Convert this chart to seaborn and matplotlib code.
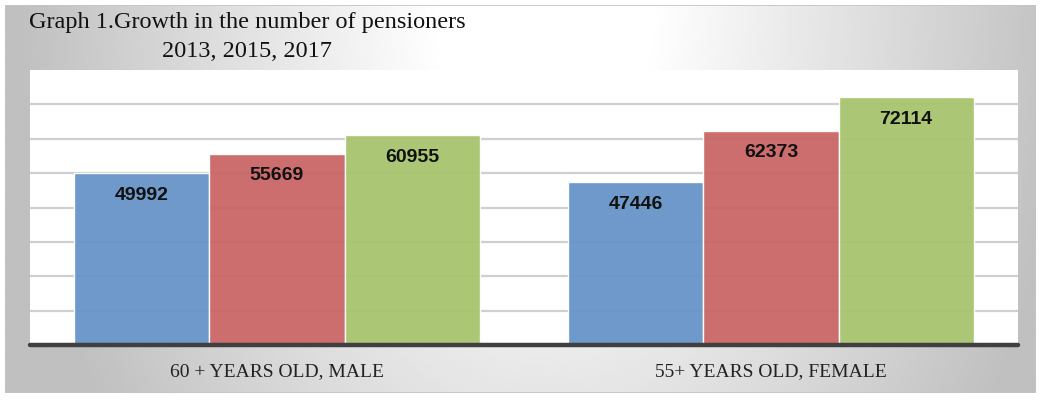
import numpy as np
import pandas as pd
import seaborn as sns
import matplotlib.pyplot as plt
from matplotlib.patches import Rectangle

# data
groups = ['60 + YEARS OLD, MALE', '55+ YEARS OLD, FEMALE']
years = ['2013', '2015', '2017']
values_2013 = [49992, 47446]
values_2015 = [55669, 62373]
values_2017 = [60955, 72114]
colors = ['#6794c7', '#c96665', '#a7c46e']

df = pd.DataFrame({
    'group': groups * 3,
    'year': [y for y in years for _ in groups],
    'value': values_2013 + values_2015 + values_2017,
})

sns.set_theme(style='white')
fig = plt.figure(figsize=(10.4, 4.01), dpi=100)
W, H = 1040, 401

# gradient frame behind the chart
bg = fig.add_axes([5 / W, (H - 393) / H, 1031 / W, 388 / H], zorder=0)
xx, yy = np.meshgrid(np.linspace(0, 1031, 400), np.linspace(0, 388, 200))
r = np.sqrt(((xx - 540) / 530) ** 2 + (yy / 760) ** 2)
shade = 1 - 0.25 * np.clip((r - 0.2) / 0.8, 0, 1)
bg.imshow(shade, cmap='gray', vmin=0, vmax=1, aspect='auto',
          extent=[0, 1, 0, 1], interpolation='bilinear')
bg.add_patch(Rectangle((0, 0), 1, 1, transform=bg.transAxes, fill=False,
                       edgecolor='#c4c4c4', lw=1.2))
bg.set_axis_off()

ax = fig.add_axes([30 / W, (H - 345) / H, 988 / W, 275 / H], zorder=1)
ax.set_facecolor('white')
sns.barplot(data=df, x='group', y='value', hue='year', palette=colors,
            saturation=1, width=0.82, gap=0, edgecolor='white', linewidth=1,
            alpha=0.95, legend=False, ax=ax)
ax.set_xlim(-0.5, 1.5)
ax.set_ylim(0, 80000)
ax.set_yticks(range(10000, 80000, 10000))
ax.set_yticklabels([])
ax.yaxis.grid(True, color='#cfcfcf', lw=1.6)
ax.set_axisbelow(True)
ax.axhline(0, color='#404040', lw=3.2, zorder=5, clip_on=False)
for s in ax.spines.values():
    s.set_visible(False)
ax.tick_params(axis='both', length=0)
ax.tick_params(axis='x', pad=13)
ax.set_xlabel('')
ax.set_ylabel('')
for lab in ax.get_xticklabels():
    lab.set_fontfamily('Liberation Serif')
    lab.set_fontsize(14)
    lab.set_color('#222222')

for cont in ax.containers:
    for bar in cont:
        h = bar.get_height()
        ax.annotate(f'{int(round(h))}', (bar.get_x() + bar.get_width() / 2, h),
                    xytext=(0, -16), textcoords='offset points',
                    ha='center', va='center', fontsize=14,
                    fontweight='bold', family='Liberation Sans', color='#111111')

fig.text(247 / W, (H - 37) / H,
         'Graph 1.Growth in the number of pensioners\n2013, 2015, 2017',
         ha='center', va='center', multialignment='center',
         fontsize=17.5, family='Liberation Serif', color='#111111',
         linespacing=1.5, zorder=3)

fig.savefig('out.png', dpi=100, facecolor='white')
